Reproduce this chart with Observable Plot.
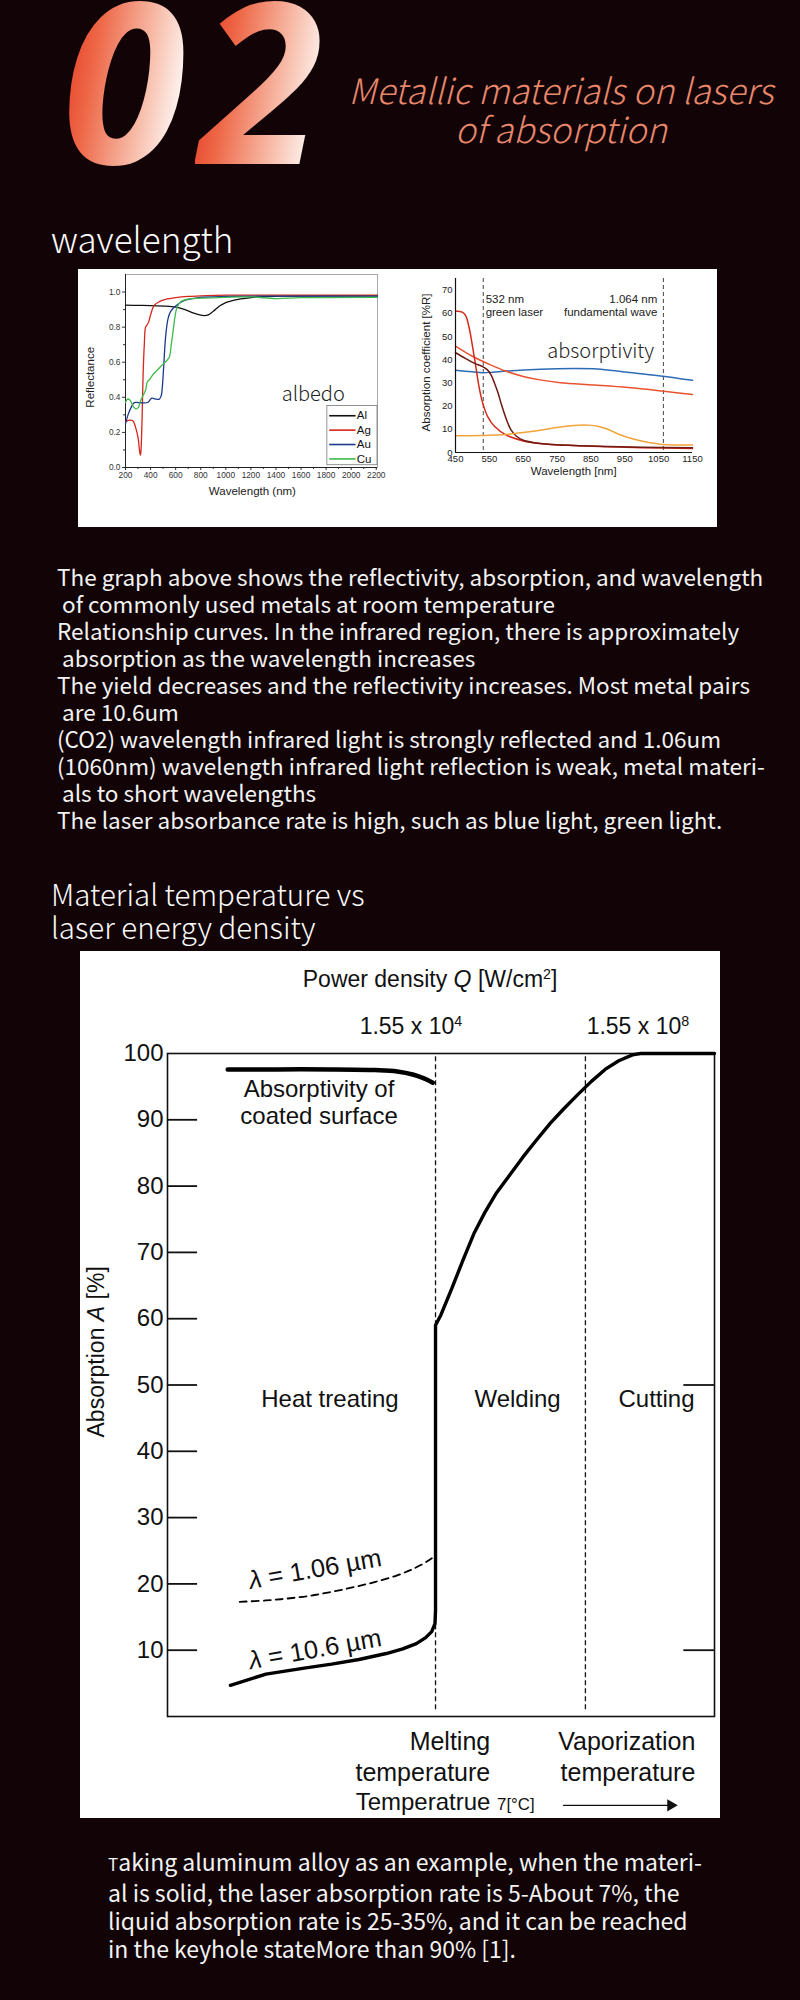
<!DOCTYPE html>
<html>
<head>
<meta charset="utf-8">
<script src="https://cdn.jsdelivr.net/npm/d3@7"></script>
<script src="https://cdn.jsdelivr.net/npm/@observablehq/plot@0.6"></script>
<style>
html, body { margin:0; padding:0; background:#120306; }
#page { position:relative; width:800px; height:2000px; overflow:hidden; background:#120306; color:#f4f4f4; font-family:"Noto Sans CJK SC","Noto Sans",sans-serif; }
.abs { position:absolute; }
#num { left:58px; top:-34px; font-family:"Open Sans","Noto Sans",sans-serif; font-weight:700; font-style:italic; font-size:224px; line-height:224px; white-space:nowrap; }
#num span { display:inline-block; padding:0 14px 0 4px; margin-right:-4px; background:linear-gradient(100deg,#e0260e 0%,#ee6a4a 30%,#f8c2b0 62%,#ffffff 85%); -webkit-background-clip:text; background-clip:text; color:transparent; }
#title { left:311px; width:500px; top:69px; text-align:center; color:#e8876b; font-style:italic; font-weight:300; font-size:35px; line-height:39px; }
.h { left:51px; font-weight:300; color:#fafafa; }
.para { font-size:22.5px; line-height:27px; white-space:pre; color:#f2f2f2; }
.box { background:#fff; }
.box svg { position:absolute; top:0; }
</style>
</head>
<body>
<div id="page">
  <div id="num" class="abs"><span>0</span><span>2</span></div>
  <div id="title" class="abs">Metallic materials on lasers<br>of absorption</div>
  <div class="abs h" style="top:218px; font-size:35px; line-height:40px;">wavelength</div>
  <div id="box1" class="abs box" style="left:78px; top:269px; width:639px; height:258px;"></div>
  <div class="abs para" style="left:57px; top:563px;">The graph above shows the reflectivity, absorption, and wavelength
 of commonly used metals at room temperature
Relationship curves. In the infrared region, there is approximately
 absorption as the wavelength increases
The yield decreases and the reflectivity increases. Most metal pairs
 are 10.6um
(CO2) wavelength infrared light is strongly reflected and 1.06um
(1060nm) wavelength infrared light reflection is weak, metal materi-
 als to short wavelengths
The laser absorbance rate is high, such as blue light, green light.</div>
  <div class="abs h" style="top:877px; font-size:29.5px; line-height:33px;">Material temperature vs<br>laser energy density</div>
  <div id="box2" class="abs box" style="left:80px; top:951px; width:640px; height:867px;"></div>
  <div class="abs para" style="left:108px; top:1847px; font-size:23px; line-height:28px;"><span style="font-size:17px">T</span>aking aluminum alloy as an example, when the materi-
al is solid, the laser absorption rate is 5-About 7%, the
liquid absorption rate is 25-35%, and it can be reached
in the keyhole stateMore than 90% [1].</div>
</div>
<script>
// ---------- Chart 1: reflectance vs wavelength ----------
const reflSeries = ["Al", "Ag", "Au", "Cu"];
const reflColors = ["#111111", "#d4261c", "#1c3a8f", "#3dbb4b"];
const reflAl = [[200,.925],[300,.924],[400,.923],[500,.92],[600,.914],[650,.905],[700,.893],[750,.878],[800,.868],[830,.866],[860,.87],[900,.89],[950,.92],[1000,.94],[1100,.958],[1200,.968],[1300,.974],[1500,.977],[1800,.978],[2210,.978]];
const reflAg = [[200,.26],[230,.27],[260,.265],[280,.23],[300,.17],[315,.08],[320,.07],[325,.12],[333,.3],[340,.52],[350,.7],[360,.8],[370,.81],[385,.83],[400,.87],[430,.925],[470,.945],[520,.958],[600,.968],[700,.975],[850,.98],[1000,.982],[1500,.982],[2210,.982]];
const reflAu = [[200,.25],[220,.3],[250,.35],[270,.37],[300,.37],[350,.368],[380,.372],[410,.395],[440,.39],[470,.39],[485,.41],[495,.47],[505,.58],[515,.7],[525,.78],[540,.85],[560,.89],[600,.92],[650,.945],[700,.958],[800,.97],[1000,.975],[1500,.977],[2210,.977]];
const reflCu = [[200,.37],[215,.39],[235,.385],[260,.35],[280,.335],[300,.34],[320,.38],[340,.41],[360,.44],[375,.49],[390,.5],[420,.53],[460,.56],[500,.59],[530,.61],[550,.63],[565,.7],[580,.78],[595,.86],[610,.91],[640,.945],[700,.96],[800,.965],[1000,.97],[1200,.972],[1400,.963],[1600,.968],[2210,.97]];
const reflXTicks = [200,400,600,800,1000,1200,1400,1600,1800,2000,2200];
const reflXMinor = [300,500,700,900,1100,1300,1500,1700,1900,2100];
const reflYTicks = [0,0.2,0.4,0.6,0.8,1.0];
const reflYMinor = [0.1,0.3,0.5,0.7,0.9];

// ---------- Chart 2: absorption coefficient vs wavelength ----------
const absSeries = ["blue", "redLong", "redSteep", "darkRed", "orange"];
const absColors = ["#2b6cb5", "#e8522e", "#d42a1a", "#6e1a12", "#f2a33a"];
const absBlue = [[450,35.4],[500,34.8],[530,34.4],[560,34.6],[600,35.1],[700,35.9],[800,36.2],[870,36],[950,34.7],[1050,33.1],[1150,31.1]];
const absRedLong = [[450,45.9],[500,41.5],[550,38],[600,35],[650,32.8],[700,31.3],[760,30.1],[860,29.1],[960,28],[1060,26.5],[1150,25]];
const absRedSteep = [[450,61],[470,60.5],[480,59],[490,54],[500,46],[510,37],[520,28],[530,21.5],[545,15.5],[565,11.3],[600,7.5],[650,5],[700,3.9],[800,3],[900,2.5],[1000,2.1],[1150,1.7]];
const absDarkRed = [[450,43],[480,40.5],[505,38.5],[530,37],[545,35.5],[555,33.5],[565,30],[575,26],[585,21],[595,16.5],[605,12.5],[615,9.5],[630,7],[650,5.3],[700,3.9],[800,3],[900,2.6],[1000,2.3],[1150,2.0]];
const absOrange = [[450,7.2],[550,7.4],[600,7.8],[650,8.6],[700,9.6],[750,10.8],[800,11.6],[830,11.8],[870,11.3],[900,10],[930,8],[970,6],[1010,4.6],[1060,3.5],[1150,3.2]];
const absXTicks = [450,550,650,750,850,950,1050,1150];
const absYTicks = [0,10,20,30,40,50,60,70];
const laserLines = [532, 1064];

// ---------- Chart 3: absorption vs temperature ----------
const coatedSurface = [[11,97.6],[20,97.6],[30,97.6],[38,97.5],[42,97.3],[45,96.8],[47,96.2],[48.5,95.6]];
const absorb106um = [[11.5,4.7],[18,6.4],[25,7.3],[30,7.9],[35,8.6],[40,9.5],[43,10.2],[45.5,11],[47.2,11.9],[48.3,12.8],[48.9,14],[49,16],[49,59],[50,60.6],[52,64.6],[54,68.8],[56,72.8],[58,76],[60,78.8],[62.5,81.6],[65,84.4],[67.5,87],[70,89.5],[72.5,91.7],[75,93.8],[77.5,95.8],[80,97.6],[82.5,98.9],[85,99.8],[86.5,100],[100,100]];
const absorb1064um = [[13.2,17.3],[18,17.5],[22,17.8],[26,18.2],[30,18.8],[34,19.5],[38,20.3],[42,21.3],[45,22.3],[47.5,23.4],[49,24.3]];
const bigYTicks = [10,20,30,40,50,60,70,80,90,100];
const bigInnerTicks = [10,20,30,40,50,60,70,80,90];
const bigRightTicks = [10,50];
const meltingT = 49, vaporT = 76.4;
const regionNames = ["Heat treating", "Welding", "Cutting"];
const regionX = [29.7, 64, 89.4];

const toRows = (pts, s) => pts.map(([x, y]) => ({series: s, x, y}));
const plain = d => String(d);

// rich text: _italic_, ^superscript^, ~smaller~
function applyMarkup(el) {
  const s = el.textContent;
  if (!/[_^~]/.test(s)) return;
  const parts = s.split(/(_[^_]+_|\^[^^]+\^|~[^~]+~)/).filter(p => p);
  el.textContent = "";
  for (const p of parts) {
    const t = document.createElementNS("http://www.w3.org/2000/svg", "tspan");
    if (p[0] === "_") { t.setAttribute("font-style", "italic"); t.textContent = p.slice(1, -1); }
    else if (p[0] === "^") { t.setAttribute("font-size", "0.62em"); t.setAttribute("baseline-shift", "super"); t.textContent = p.slice(1, -1); }
    else if (p[0] === "~") { t.setAttribute("font-size", "0.7em"); t.textContent = p.slice(1, -1); }
    else t.textContent = p;
    el.appendChild(t);
  }
}
function richify(svg) {
  svg.querySelectorAll("text").forEach(el => {
    if (el.children.length) el.querySelectorAll("tspan").forEach(applyMarkup);
    else applyMarkup(el);
  });
  return svg;
}

const arial = "'Liberation Sans', Arial, Helvetica, sans-serif";

// ----- chart 1 -----
const reflRows = [reflAl, reflAg, reflAu, reflCu].flatMap((p, i) => toRows(p, reflSeries[i]));
const legTop = 0.295, legStep = 0.082;
const chart1 = Plot.plot({
  width: 330, height: 258,
  marginLeft: 47, marginRight: 31, marginTop: 5, marginBottom: 60,
  x: {domain: [200, 2210]},
  y: {domain: [0, 1.1]},
  color: {domain: reflSeries, range: reflColors},
  style: {background: "transparent", fontFamily: arial, color: "#333", overflow: "visible"},
  marks: [
    Plot.frame({stroke: "#a8a8a8"}),
    Plot.axisX({ticks: reflXTicks, tickSize: 3, tickPadding: 2, fontSize: 8.3, tickFormat: plain, label: null}),
    Plot.axisX({ticks: reflXMinor, tickSize: 2, tickFormat: () => "", label: null}),
    Plot.axisY({ticks: reflYTicks, tickSize: 3, tickPadding: 2, fontSize: 8.3, tickFormat: d3.format(".1f"), label: null}),
    Plot.axisY({ticks: reflYMinor, tickSize: 2, tickFormat: () => "", label: null}),
    Plot.ruleX([200], {stroke: "#222"}),
    Plot.ruleY([0], {stroke: "#222"}),
    Plot.line(reflRows, {x: "x", y: "y", z: "series", stroke: "series", strokeWidth: 1.3, curve: "catmull-rom"}),
    Plot.rect([0], {x1: 1810, x2: 2210, y1: 0.013, y2: 0.35, fill: "white", stroke: "#777", strokeWidth: 0.8}),
    Plot.link(reflSeries, {x1: 1825, x2: 2035, y1: (d, i) => legTop - i * legStep, y2: (d, i) => legTop - i * legStep, stroke: d => d, strokeWidth: 1.6}),
    Plot.text(reflSeries, {x: 2045, y: (d, i) => legTop - i * legStep, text: d => d, textAnchor: "start", fontSize: 11.5, fill: "#111"}),
    Plot.text(["albedo"], {x: 1698, y: 0.413, fontSize: 20, fill: "#222", fontFamily: "'Noto Sans CJK SC', sans-serif", fontWeight: 300}),
    Plot.text(["Reflectance"], {frameAnchor: "left", dx: -35, y: 0.514, rotate: -90, textAnchor: "middle", fontSize: 11.5, fill: "#222"}),
    Plot.text(["Wavelength (nm)"], {frameAnchor: "bottom", x: 1212, dy: 27, fontSize: 11.5, fill: "#222"})
  ]
});
chart1.style.left = "0px";
document.getElementById("box1").appendChild(chart1);

// ----- chart 2 -----
const absRows = [absBlue, absRedLong, absRedSteep, absDarkRed, absOrange].flatMap((p, i) => toRows(p, absSeries[i]));
const chart2 = Plot.plot({
  width: 309, height: 258,
  marginLeft: 47, marginRight: 25, marginTop: 9, marginBottom: 75,
  x: {domain: [450, 1150]},
  y: {domain: [0, 75]},
  color: {domain: absSeries, range: absColors},
  style: {background: "transparent", fontFamily: arial, color: "#222", overflow: "visible"},
  marks: [
    Plot.axisX({ticks: absXTicks, tickSize: 0, tickPadding: 3, fontSize: 9.5, tickFormat: plain, label: null}),
    Plot.axisY({ticks: absYTicks, tickSize: 0, tickPadding: 3, fontSize: 9.5, label: null}),
    Plot.ruleX(laserLines, {stroke: "#444", strokeDasharray: "4,3", strokeWidth: 1}),
    Plot.line(absRows, {x: "x", y: "y", z: "series", stroke: "series", strokeWidth: 1.5, curve: "catmull-rom"}),
    Plot.ruleX([450], {stroke: "#111", strokeWidth: 1.2}),
    Plot.ruleY([0], {stroke: "#111", strokeWidth: 1.2}),
    Plot.text(["532 nm\ngreen laser"], {x: 539, y: 63.4, textAnchor: "start", lineHeight: 1.16, fontSize: 11.5, fill: "#222"}),
    Plot.text(["1.064 nm\nfundamental wave"], {x: 1046, y: 63.4, textAnchor: "end", lineHeight: 1.16, fontSize: 11.5, fill: "#222"}),
    Plot.text(["absorptivity"], {x: 879, y: 43.3, fontSize: 20, fill: "#222", fontFamily: "'Noto Sans CJK SC', sans-serif", fontWeight: 300}),
    Plot.text(["Absorption coefficient [%R]"], {frameAnchor: "left", dx: -29, y: 38.8, rotate: -90, textAnchor: "middle", fontSize: 11.5, fill: "#222"}),
    Plot.text(["Wavelength [nm]"], {frameAnchor: "bottom", x: 799, dy: 22, fontSize: 11.5, fill: "#222"})
  ]
});
chart2.style.left = "330px";
document.getElementById("box1").appendChild(chart2);

// ----- chart 3 -----
const chart3 = Plot.plot({
  width: 640, height: 867,
  marginLeft: 87, marginRight: 6, marginTop: 102, marginBottom: 102,
  x: {domain: [0, 100], axis: null},
  y: {domain: [0, 100]},
  style: {background: "transparent", fontFamily: arial, color: "#111", overflow: "visible"},
  marks: [
    Plot.frame({stroke: "#111", strokeWidth: 1.6}),
    Plot.axisY({ticks: bigYTicks, tickSize: 0, tickPadding: 4, fontSize: 24, label: null}),
    Plot.ruleY(bigInnerTicks, {x1: 0, x2: 5.5, stroke: "#111", strokeWidth: 1.8}),
    Plot.ruleY(bigRightTicks, {x1: 94.4, x2: 100, stroke: "#111", strokeWidth: 1.8}),
    Plot.ruleX([meltingT, vaporT], {y1: 1, y2: 100, stroke: "#111", strokeWidth: 1.3, strokeDasharray: "5,3"}),
    Plot.line(toRows(coatedSurface, "c"), {x: "x", y: "y", stroke: "#000", strokeWidth: 4.5, curve: "catmull-rom"}),
    Plot.line(toRows(absorb106um, "a"), {x: "x", y: "y", stroke: "#000", strokeWidth: 3.4}),
    Plot.line(toRows(absorb1064um, "b"), {x: "x", y: "y", stroke: "#000", strokeWidth: 1.8, strokeDasharray: "7,5", curve: "catmull-rom"}),
    Plot.text(["Power density _Q_ [W/cm^2^]"], {x: 48, y: 111.2, fontSize: 23}),
    Plot.text(["1.55 x 10^4^", "1.55 x 10^8^"], {x: [44.5, 86], y: 104, fontSize: 23}),
    Plot.text(["Absorptivity of\ncoated surface"], {x: 27.7, y: 92.65, lineHeight: 1.13, fontSize: 24}),
    Plot.text(regionNames, {x: regionX, y: 47.8, fontSize: 24}),
    Plot.text(["_λ_ = 1.06 µm"], {x: 27, y: 22.2, rotate: -10, fontSize: 25.5}),
    Plot.text(["_λ_ = 10.6 µm"], {x: 27, y: 10.1, rotate: -10, fontSize: 25.5}),
    Plot.text(["Melting\ntemperature"], {x: 59, y: -5.9, textAnchor: "end", lineHeight: 1.22, fontSize: 25}),
    Plot.text(["Vaporization\ntemperature"], {x: 96.5, y: -5.9, textAnchor: "end", lineHeight: 1.22, fontSize: 25}),
    Plot.text(["Temperatrue ~7[°C]~"], {x: 34.4, y: -13, textAnchor: "start", fontSize: 24}),
    Plot.arrow([0], {x1: 72.4, x2: 92, y1: -13.4, y2: -13.4, stroke: "#111", strokeWidth: 1.4, headLength: 0}),
    Plot.dot([0], {x: 92, y: -13.4, symbol: "triangle", rotate: 90, r: 4.5, fill: "#111"}),
    Plot.text(["Absorption _A_ [%]"], {frameAnchor: "left", dx: -71, y: 55, rotate: -90, textAnchor: "middle", fontSize: 23})
  ]
});
richify(chart3);
chart3.style.left = "0px";
document.getElementById("box2").appendChild(chart3);
</script>
</body>
</html>
